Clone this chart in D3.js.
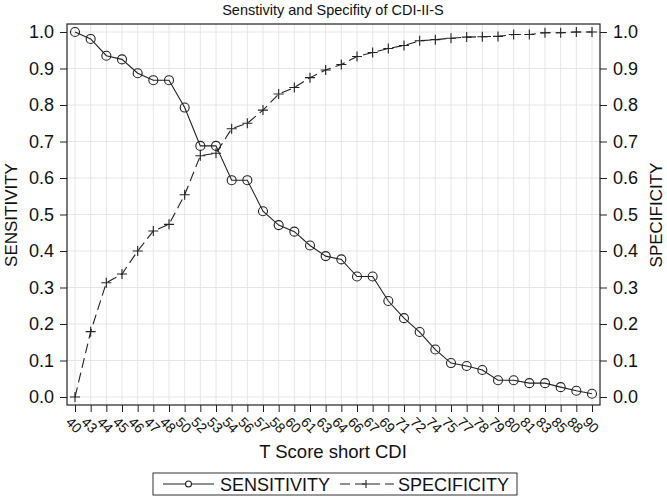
<!DOCTYPE html>
<html><head><meta charset="utf-8">
<script src="https://cdn.jsdelivr.net/npm/d3@7"></script>
<style>body{margin:0;background:#fff;} text{font-family:"Liberation Sans",Arial,sans-serif;fill:#111;}</style>
</head><body>
<svg id="c" width="667" height="499"></svg>
<script>
const categories = ["40","43","44","45","46","47","48","50","52","53","54","56","57","58","60","61","63","64","66","67","69","71","72","74","75","77","78","79","80","81","83","85","88","90"];
const sensitivity = [1.0,0.981,0.935,0.925,0.887,0.868,0.868,0.793,0.688,0.688,0.594,0.594,0.509,0.471,0.453,0.415,0.386,0.377,0.330,0.330,0.263,0.216,0.178,0.130,0.093,0.085,0.074,0.046,0.046,0.038,0.038,0.027,0.017,0.009];
const specificity = [0.0,0.179,0.313,0.337,0.400,0.455,0.473,0.554,0.661,0.668,0.735,0.750,0.786,0.830,0.848,0.875,0.896,0.911,0.933,0.944,0.955,0.963,0.976,0.979,0.983,0.986,0.987,0.988,0.993,0.993,0.998,0.998,1.0,1.0];
const yTicks = [0,0.1,0.2,0.3,0.4,0.5,0.6,0.7,0.8,0.9,1.0];
const title = "Senstivity and Specifity of CDI-II-S";
const xTitle = "T Score short CDI";
const yLeftTitle = "SENSITIVITY", yRightTitle = "SPECIFICITY";

const svg = d3.select("#c");
const L=67, R=600, T=24, B=405;
const x = d3.scalePoint().domain(categories).range([75,592]);
const y = d3.scaleLinear().domain([0,1]).range([397,32]);

svg.append("rect").attr("x",L).attr("y",T).attr("width",R-L).attr("height",B-T).attr("fill","#fff");
const g = svg.append("g");
g.selectAll(".vg").data(categories).join("line")
 .attr("x1",d=>x(d)).attr("x2",d=>x(d)).attr("y1",T).attr("y2",B)
 .attr("stroke","#e6e6e6").attr("stroke-width",1);
g.selectAll(".hg").data(yTicks).join("line")
 .attr("x1",L).attr("x2",R).attr("y1",d=>y(d)).attr("y2",d=>y(d))
 .attr("stroke","#e6e6e6").attr("stroke-width",1);

const axL = d3.axisLeft(y).tickValues(yTicks).tickFormat(d3.format(".1f")).tickSize(7).tickPadding(6);
const axR = d3.axisRight(y).tickValues(yTicks).tickFormat(d3.format(".1f")).tickSize(7).tickPadding(6);
const axB = d3.axisBottom(x).tickSize(7).tickFormat("");
function style(sel){sel.select(".domain").remove(); sel.selectAll("line").attr("stroke","#222"); sel.selectAll("text").attr("font-size",18).attr("font-family","Liberation Sans, Arial, sans-serif").attr("fill","#111");}
svg.append("g").attr("transform",`translate(${L},0)`).call(axL).call(style);
svg.append("g").attr("transform",`translate(${R},0)`).call(axR).call(style);
svg.append("g").attr("transform",`translate(0,${B})`).call(axB).call(style);

svg.append("g").selectAll("text").data(categories).join("text")
 .attr("transform",d=>`translate(${x(d)-2},426) rotate(45)`)
 .attr("text-anchor","middle").attr("dominant-baseline","middle")
 .attr("font-size",14).text(d=>d);

svg.append("rect").attr("x",L).attr("y",T).attr("width",R-L).attr("height",B-T)
 .attr("fill","none").attr("stroke","#222").attr("stroke-width",1.2);

const lineS = d3.line().x((d,i)=>x(categories[i])).y(d=>y(d));
svg.append("path").datum(sensitivity).attr("d",lineS).attr("fill","none").attr("stroke","#222").attr("stroke-width",1.1);
svg.append("path").datum(specificity).attr("d",lineS).attr("fill","none").attr("stroke","#222").attr("stroke-width",1.1).attr("stroke-dasharray","10,5");

svg.append("g").selectAll("circle").data(sensitivity).join("circle")
 .attr("cx",(d,i)=>x(categories[i])).attr("cy",d=>y(d)).attr("r",4.5)
 .attr("fill","none").attr("stroke","#222").attr("stroke-width",1.1);
svg.append("g").selectAll("path").data(specificity).join("path")
 .attr("transform",(d,i)=>`translate(${x(categories[i])},${y(d)})`)
 .attr("d","M-5,0H5M0,-5V5").attr("stroke","#222").attr("stroke-width",1.1).attr("fill","none");

svg.append("text").attr("x",333).attr("y",15).attr("text-anchor","middle").attr("font-size",14.5).text(title);
svg.append("text").attr("x",333).attr("y",458).attr("text-anchor","middle").attr("font-size",18.5).text(xTitle);
svg.append("text").attr("transform","translate(17,215) rotate(-90)").attr("text-anchor","middle").attr("font-size",17).text(yLeftTitle);
svg.append("text").attr("transform","translate(662,215) rotate(-90)").attr("text-anchor","middle").attr("font-size",17).text(yRightTitle);

const lg = svg.append("g");
lg.append("rect").attr("x",153).attr("y",473).attr("width",364).attr("height",22).attr("fill","#fff").attr("stroke","#333").attr("stroke-width",1);
const ly = 484;
lg.append("line").attr("x1",163).attr("x2",214).attr("y1",ly).attr("y2",ly).attr("stroke","#222").attr("stroke-width",1.1);
lg.append("circle").attr("cx",188.5).attr("cy",ly).attr("r",3).attr("fill","#fff").attr("stroke","#222").attr("stroke-width",1.1);
lg.append("text").attr("x",220).attr("y",ly+6.5).attr("font-size",18).text("SENSITIVITY");
lg.append("line").attr("x1",340).attr("x2",394).attr("y1",ly).attr("y2",ly).attr("stroke","#222").attr("stroke-width",1.1).attr("stroke-dasharray","10,5");
lg.append("path").attr("transform",`translate(${366},${ly})`).attr("d","M-4,0H4M0,-4V4").attr("stroke","#222").attr("stroke-width",1.1);
lg.append("text").attr("x",398).attr("y",ly+6.5).attr("font-size",18).text("SPECIFICITY");
</script>
</body></html>
